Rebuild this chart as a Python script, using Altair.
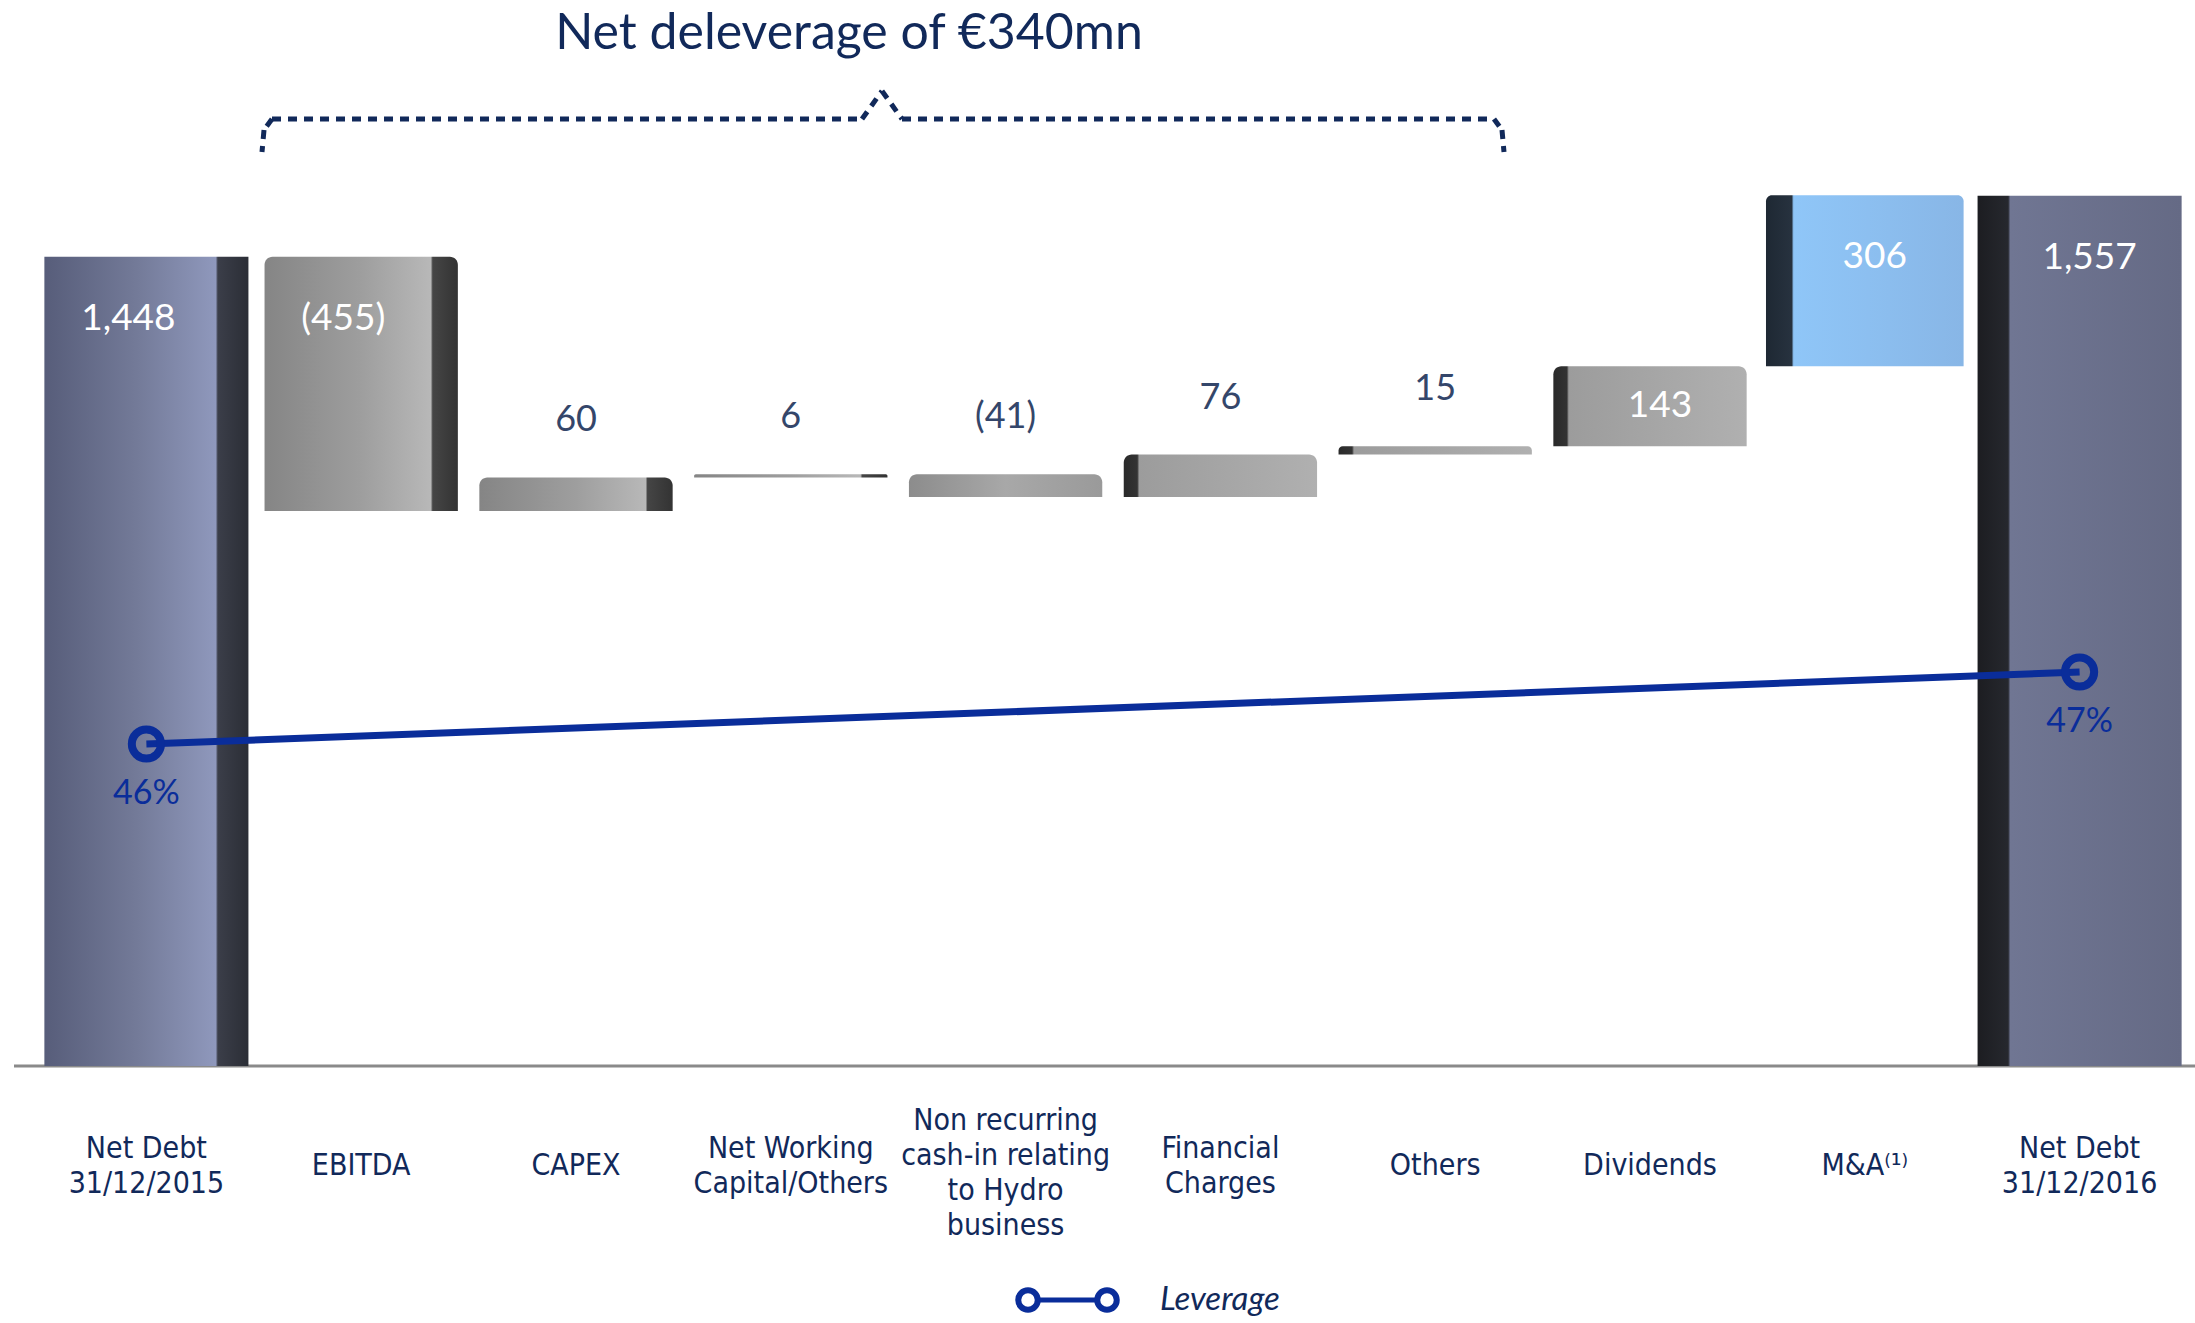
import altair as alt
import pandas as pd

# ---------------- data ----------------
categories = [
    "Net Debt\n31/12/2015", "EBITDA", "CAPEX", "Net Working\nCapital/Others",
    "Non recurring\ncash-in relating\nto Hydro\nbusiness", "Financial\nCharges",
    "Others", "Dividends", "M&A\u207d\u00b9\u207e", "Net Debt\n31/12/2016",
]
amounts = [1448, -455, 60, 6, -41, 76, 15, 143, 306, 1557]
value_labels = ["1,448", "(455)", "60", "6", "(41)", "76", "15", "143", "306", "1,557"]
kinds = ["total", "gray", "gray", "gray", "gray", "gray", "gray", "gray", "blue", "total"]
sides = ["R", "R", "R", "R", "N", "L", "L", "L", "L", "L"]
inside = [True, True, False, False, False, False, False, True, True, True]

leverage_cats = [categories[0], categories[-1]]
leverage_vals = [46, 47]
leverage_labels = ["46%", "47%"]

title_text = "Net deleverage of \u20ac340mn"
legend_text = "Leverage"

# ---------------- waterfall table ----------------
PX_PER_UNIT = 1006 / 1800.0
rows = []
running = 0
for c, a, lab, k, s, ins in zip(categories, amounts, value_labels, kinds, sides, inside):
    if k == "total":
        start, end = 0, a
        running = a
    else:
        start, end = running, running + a
        running = end
    top = max(start, end)
    # inside labels sit ~62px below the bar top, or at mid-bar for short bars
    lab_y = max(top - 62 / PX_PER_UNIT, (start + end) / 2) if ins else top
    rows.append(dict(cat=c, start=start, end=end, top=top, laby=lab_y,
                     label=lab, group=k + s, side=s, inside=ins,
                     nlines=c.count("\n") + 1))
df = pd.DataFrame(rows)
lev = pd.DataFrame({"cat": leverage_cats, "lev": leverage_vals, "label": leverage_labels})
one = pd.DataFrame({"a": [0]})

NAVY = "#11295a"
LEVBLUE = "#0a2d9a"
SANS_NARROW = "DejaVu Sans Condensed, Liberation Sans, sans-serif"

X = alt.X("cat:N", sort=categories,
          scale=alt.Scale(domain=categories, paddingInner=0, paddingOuter=0), axis=None)
YS = alt.Scale(domain=[0, 1800], nice=False, zero=False)
LS = alt.Scale(domain=[41.528, 55.5], nice=False, zero=False)


def grad(stops):
    return alt.Gradient(gradient="linear", x1=0, x2=1, y1=0, y2=0,
                        stops=[alt.GradientStop(offset=o, color=c) for o, c in stops])


gradients = {
    "totalR": (grad([(0, "#575d7a"), (0.45, "#737a98"), (0.84, "#8f98bc"), (0.85, "#3b3e49"), (1, "#2b2e36")]), 0.95, 0),
    "totalL": (grad([(0, "#1c1d21"), (0.15, "#26282e"), (0.16, "#707693"), (1, "#656a85")]), 0.95, 0),
    "grayR": (grad([(0, "#858585"), (0.5, "#9e9e9e"), (0.86, "#b8b8b8"), (0.87, "#454545"), (1, "#333333")]), 0.9, 8),
    "grayN": (grad([(0, "#8c8c8c"), (0.5, "#a8a8a8"), (1, "#9a9a9a")]), 0.9, 8),
    "grayL": (grad([(0, "#2a2a2a"), (0.07, "#333333"), (0.08, "#9c9c9c"), (1, "#b0b0b0")]), 0.9, 8),
    "blueL": (grad([(0, "#1e2833"), (0.13, "#27323f"), (0.14, "#8fc6f8"), (1, "#88b6e6")]), 0.92, 6),
}

base = alt.Chart(df)
layers = []

# baseline
layers.append(alt.Chart(one).mark_rule(color="#8a8a8a", strokeWidth=3).encode(
    x=alt.value(-25), x2=alt.value(2156), y=alt.value(1006)))

# bars
for g, (fill, w, r) in gradients.items():
    layers.append(
        base.transform_filter(alt.datum.group == g)
        .mark_bar(fill=fill, width=alt.RelativeBandSize(w),
                  cornerRadiusTopLeft=r, cornerRadiusTopRight=r)
        .encode(x=X, y=alt.Y("start:Q", scale=YS, axis=None), y2="end:Q")
    )

# value labels inside (white)
for s, dx in [("R", -18), ("L", 10)]:
    layers.append(
        base.transform_filter((alt.datum.inside == True) & (alt.datum.side == s))
        .mark_text(color="white", font="Lato", fontSize=37, baseline="middle", dx=dx)
        .encode(x=X, y=alt.Y("laby:Q", scale=YS, axis=None), text="label:N")
    )
# value labels outside
layers.append(
    base.transform_filter(alt.datum.inside == False)
    .mark_text(color="#34466a", font="Lato", fontSize=36, baseline="middle", dy=-57)
    .encode(x=X, y=alt.Y("top:Q", scale=YS, axis=None), text="label:N")
)

# category labels (vertically centred multi-line blocks)
LH = 35
for n in sorted(set(df["nlines"])):
    shift = 7 if n > 2 else 0
    layers.append(
        base.transform_filter(alt.datum.nlines == n)
        .mark_text(color=NAVY, font=SANS_NARROW, fontSize=30, baseline="middle",
                   lineBreak="\n", lineHeight=LH, dy=-(n - 1) * LH / 2 + shift)
        .encode(x=X, y=alt.value(1106), text="cat:N")
    )

# leverage line
levb = alt.Chart(lev)
layers.append(levb.mark_line(color=LEVBLUE, strokeWidth=7).encode(
    x=X, y=alt.Y("lev:Q", scale=LS, axis=None)))
layers.append(levb.mark_point(shape="circle", filled=False, size=850, strokeWidth=8,
                              color=LEVBLUE, opacity=1).encode(
    x=X, y=alt.Y("lev:Q", scale=LS, axis=None)))
layers.append(levb.mark_text(color=LEVBLUE, font="Lato", fontSize=34, baseline="middle", dy=50).encode(
    x=X, y=alt.Y("lev:Q", scale=LS, axis=None), text="label:N"))

# title
layers.append(alt.Chart(one).mark_text(text=title_text, color=NAVY, font="Lato", fontSize=50,
                                       baseline="middle", align="center").encode(
    x=alt.value(810), y=alt.value(-26)))

# brace (dotted)
brace = dict(color=NAVY, strokeWidth=5, strokeDash=[9, 7])
for x1, y1, x2, y2 in [(233, 59, 823, 59), (863, 59, 1455, 59),
                       (233, 59, 225, 70), (225, 70, 223, 92),
                       (1455, 59, 1463, 70), (1463, 70, 1465, 92),
                       (823, 59, 843, 31), (843, 31, 863, 59)]:
    layers.append(alt.Chart(one).mark_rule(**brace).encode(
        x=alt.value(x1), y=alt.value(y1), x2=alt.value(x2), y2=alt.value(y2)))

# legend
layers.append(alt.Chart(one).mark_rule(color=LEVBLUE, strokeWidth=5).encode(
    x=alt.value(989), x2=alt.value(1068), y=alt.value(1240)))
for lx in (989, 1068):
    layers.append(alt.Chart(one).mark_point(shape="circle", filled=False, fill="white", size=380,
                                            strokeWidth=6, color=LEVBLUE, opacity=1).encode(
        x=alt.value(lx), y=alt.value(1240)))
layers.append(alt.Chart(one).mark_text(text=legend_text, color=NAVY, font="Lato", fontStyle="italic",
                                       fontSize=33, align="left", baseline="middle").encode(
    x=alt.value(1121), y=alt.value(1240)))

chart = (
    alt.layer(*layers)
    .resolve_scale(y="independent")
    .properties(width=2148, height=1006,
                padding={"left": 39, "top": 60, "right": 8, "bottom": 257},
                autosize=alt.AutoSizeParams(type="none"), background="white")
    .configure_view(stroke=None)
)

chart.save("out.html", embed_options={"renderer": "svg", "actions": False})
